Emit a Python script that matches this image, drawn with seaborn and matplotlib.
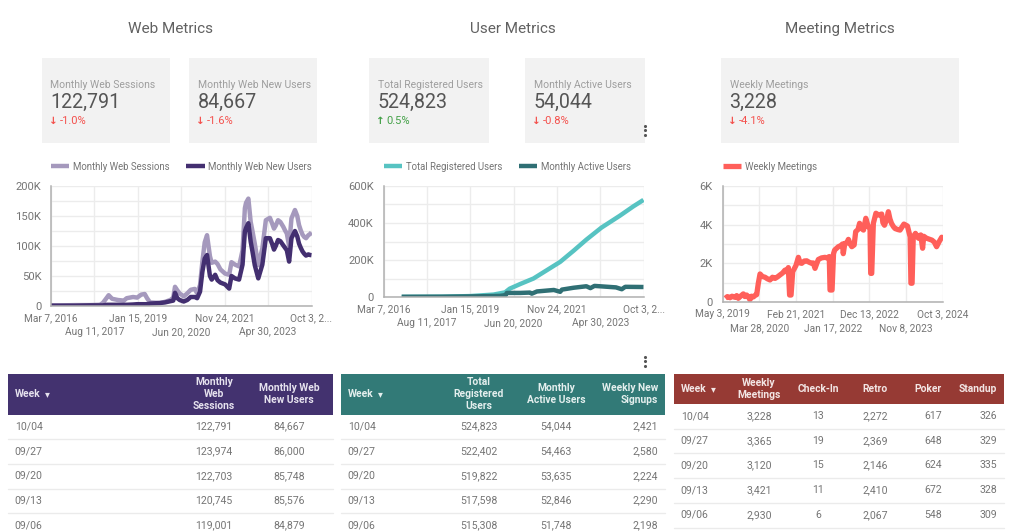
import matplotlib
matplotlib.use("Agg")
import matplotlib.pyplot as plt
from matplotlib.patches import Rectangle
from matplotlib.ticker import FuncFormatter, MultipleLocator
import pandas as pd
import seaborn as sns

# ---- chart data (weeks since the first date on each axis, values in thousands)
web_start = "2016-03-07"
web_weeks = [0, 15, 41, 67, 84, 89, 96, 99, 105, 115, 125, 130, 141, 148, 155, 161, 165, 170, 187, 196, 205, 210, 213, 217, 221,
             228, 234, 240, 247, 251, 256, 260, 264, 268, 273, 276, 282, 286, 291, 299, 306, 310, 316, 323, 329, 333, 335, 339,
             343, 346, 350, 356, 363, 369, 376, 380, 383, 386, 390, 394, 399, 402, 405, 409, 413, 419, 423, 426, 429, 432, 435,
             438, 442, 445, 447.4]
web_sessions = [1, 1, 1.5, 1.5, 2, 5, 14, 18, 12, 10, 9, 13, 15, 14, 19, 20, 13, 6, 5, 7, 10, 14, 32, 26, 21,
                16, 21, 27, 28.5, 21, 35, 74, 106, 118, 83, 72, 74, 70, 61, 54, 52, 73, 69, 66, 93, 163, 172, 179,
                140, 125, 104, 68, 96, 143, 147, 137, 129, 134, 143, 140, 132, 126, 121, 100, 146, 160, 150, 135, 126, 119, 115,
                113, 118, 120, 122.8]
web_new_users = [0.5, 0.5, 0.5, 1, 1, 1, 2, 2, 2, 2, 2, 2, 2.5, 3, 3, 3, 3, 4, 5, 6, 8, 9, 22, 13, 10,
                 7.5, 10, 15, 15, 13, 24, 57, 79, 85, 50, 44, 52, 43, 39, 36, 29, 50, 46, 44, 69, 124, 130, 138,
                 107, 91, 68, 46, 69, 113, 113, 103, 94, 100, 110, 108, 101, 97, 93, 74, 113, 125, 116, 104, 97, 91, 87,
                 84, 86, 85, 84.7]

reg_weeks = [31, 100, 149, 189, 209, 217, 235, 258, 281, 304, 327, 349, 375, 407, 430, 447.4]
reg_users = [0.5, 1.5, 5, 13, 25, 45, 70, 100, 145, 190, 250, 310, 375, 440, 490, 524.8]
active_weeks = [31, 100, 149, 200, 210, 212, 235, 252, 255, 264, 293, 304, 307, 327, 349, 356, 363, 400, 410, 416, 447.4]
active_users = [1, 1.5, 3, 6, 10, 22, 22, 24, 18, 30, 38, 28, 40, 50, 58, 48, 60, 52, 42, 55, 54]

meet_start = "2019-05-03"
meet_weeks = [3.4, 6, 9.4, 12, 15.8, 18, 20, 23, 26.5, 28.5, 30.8, 33, 35, 37, 39.4, 41.5, 43.7, 45.8, 48, 51,
              54.4, 57.5, 60.8, 64, 67.3, 70.5, 73.7, 77, 80.1, 82.5, 84.4, 86, 87.9, 90, 92, 94.3, 97.3, 99.5, 101.6, 105,
              108, 111, 114.4, 116.5, 118.7, 121, 123, 127, 131.6, 134, 137, 138, 140.6, 142.5, 144, 148.7, 152, 154, 155, 157,
              159.5, 161.6, 164, 166, 169, 171, 174, 176, 178.5, 181, 184, 187, 189.4, 190.3, 191.6, 193.7, 197, 200.5, 204.4, 206,
              208, 211, 213, 215, 217, 219.5, 221.6, 225, 228, 233, 237.5, 241, 242, 243.5, 245, 247.8, 251.6, 254.6, 257, 258.5,
              262, 265.5, 269, 272, 275, 278, 281.6, 282.9]
meet_values = [0.19, 0.28, 0.22, 0.30, 0.24, 0.33, 0.19, 0.30, 0.42, 0.28, 0.36, 0.26, 0.12, 0.30, 0.26, 0.34, 0.38, 0.97, 1.45, 1.32,
               1.28, 1.2, 1.14, 1.28, 1.22, 1.3, 1.4, 1.5, 1.65, 1.55, 1.78, 0.36, 0.36, 1.57, 1.72, 1.9, 2.31, 2.02, 2.0, 2.12,
               2.13, 2.06, 2.0, 2.02, 1.74, 2.0, 2.2, 2.28, 2.31, 2.28, 2.35, 0.62, 0.62, 2.5, 2.69, 2.86, 2.92, 3.0, 2.5, 3.03,
               3.05, 3.24, 3.0, 2.86, 2.95, 3.64, 3.75, 4.07, 3.8, 3.72, 4.33, 3.9, 3.85, 1.48, 1.48, 4.07, 4.59, 4.5, 4.55, 4.1,
               3.97, 4.3, 4.67, 4.3, 4.07, 3.9, 3.8, 3.75, 3.72, 4.03, 3.93, 3.37, 0.97, 0.97, 3.37, 3.55, 3.3, 3.47, 2.78, 3.4,
               3.3, 3.25, 3.2, 3.1, 2.86, 3.1, 3.35, 3.23]

web_ticks = ["Mar 7, 2016", "Aug 11, 2017", "Jan 15, 2019", "Jun 20, 2020", "Nov 24, 2021", "Apr 30, 2023", "Oct 3, 2024"]
web_tick_text = ["Mar 7, 2016", "Aug 11, 2017", "Jan 15, 2019", "Jun 20, 2020", "Nov 24, 2021", "Apr 30, 2023", "Oct 3, 2..."]
meet_ticks = ["May 3, 2019", "Mar 28, 2020", "Feb 21, 2021", "Jan 17, 2022", "Dec 13, 2022", "Nov 8, 2023", "Oct 3, 2024"]

# ---- section titles and score cards
section_titles = ["Web Metrics", "User Metrics", "Meeting Metrics"]
card_labels = ["Monthly Web Sessions", "Monthly Web New Users", "Total Registered Users", "Monthly Active Users", "Weekly Meetings"]
card_values = ["122,791", "84,667", "524,823", "54,044", "3,228"]
card_deltas = ["-1.0%", "-1.6%", "0.5%", "-0.8%", "-4.1%"]

# ---- tables
week_rows = ["10/04", "09/27", "09/20", "09/13", "09/06"]
web_table_head = ["Week", "Monthly\nWeb\nSessions", "Monthly Web\nNew Users"]
web_col_sessions = ["122,791", "123,974", "122,703", "120,745", "119,001"]
web_col_new = ["84,667", "86,000", "85,748", "85,576", "84,879"]
user_table_head = ["Week", "Total\nRegistered\nUsers", "Monthly\nActive Users", "Weekly New\nSignups"]
user_col_total = ["524,823", "522,402", "519,822", "517,598", "515,308"]
user_col_active = ["54,044", "54,463", "53,635", "52,846", "51,748"]
user_col_signups = ["2,421", "2,580", "2,224", "2,290", "2,198"]
meet_table_head = ["Week", "Weekly\nMeetings", "Check-In", "Retro", "Poker", "Standup"]
meet_col_total = ["3,228", "3,365", "3,120", "3,421", "2,930"]
meet_col_checkin = ["13", "19", "15", "11", "6"]
meet_col_retro = ["2,272", "2,369", "2,146", "2,410", "2,067"]
meet_col_poker = ["617", "648", "624", "672", "548"]
meet_col_standup = ["326", "329", "335", "328", "309"]

# ---- style
W, H = 1024, 532
sns.set_theme(style="white")
plt.rcParams["font.family"] = ["Roboto", "DejaVu Sans"]
GRID, AXIS, TICK = "#ececec", "#b0b0b0", "#757575"
PURPLE_L, PURPLE_D = "#a599bd", "#432f70"
TEAL_L, TEAL_D = "#57c3c2", "#2f6f74"
CORAL = "#ff5f5a"

fig = plt.figure(figsize=(W / 100, H / 100), dpi=100, facecolor="white")
bg = fig.add_axes([0, 0, 1, 1], zorder=0)
bg.set_xlim(0, W)
bg.set_ylim(H, 0)
bg.axis("off")


def to_dates(start, weeks):
    return pd.Timestamp(start) + pd.to_timedelta(weeks, unit="W")


def make_axes(x0, x1, y0, y1):
    return fig.add_axes([x0 / W, 1 - y1 / H, (x1 - x0) / W, (y1 - y0) / H], zorder=2, facecolor="none")


def finish(ax, ticks, tick_text, ymax, major, minor, height, legend_y=166.7):
    tick_dates = pd.to_datetime(ticks, format="%b %d, %Y")
    ax.set_xlim(tick_dates[0], tick_dates[-1])
    ax.set_xticks(tick_dates)
    ax.set_xticklabels(tick_text)
    ax.set_ylim(0, ymax)
    ax.yaxis.set_major_locator(MultipleLocator(major))
    ax.yaxis.set_minor_locator(MultipleLocator(minor))
    ax.yaxis.set_major_formatter(FuncFormatter(lambda v, _: "0" if v == 0 else f"{v:g}K"))
    ax.grid(True, which="both", color=GRID, lw=1.0)
    ax.set_axisbelow(True)
    ax.set_xlabel("")
    ax.set_ylabel("")
    ax.tick_params(axis="x", length=0, labelsize=7.3, labelcolor=TICK)
    ax.tick_params(axis="y", which="both", length=0, labelsize=8.1, labelcolor=TICK, pad=7)
    for i, t in enumerate(ax.xaxis.get_major_ticks()):
        t.set_pad(5 if i % 2 == 0 else 15)
    for s in ("top", "right"):
        ax.spines[s].set_visible(False)
    for s in ("left", "bottom"):
        ax.spines[s].set_color(AXIS)
        ax.spines[s].set_linewidth(1.1)
    leg = ax.legend(loc="center left", bbox_to_anchor=(0, 1 + (186 - legend_y) / height), ncol=2, frameon=False,
                    fontsize=6.9, labelcolor=TICK, handlelength=1.9, handletextpad=0.4, columnspacing=1.75,
                    borderpad=0, borderaxespad=0)
    return leg


def line(ax, start, weeks, values, color, label, lw=3.2):
    sns.lineplot(x=to_dates(start, weeks), y=values, color=color, lw=lw, label=label, ax=ax,
                 estimator=None, sort=False, errorbar=None, solid_joinstyle="round", solid_capstyle="butt")


ax1 = make_axes(51, 311.5, 186, 306)
line(ax1, web_start, web_weeks, web_sessions, PURPLE_L, "Monthly Web Sessions")
line(ax1, web_start, web_weeks, web_new_users, PURPLE_D, "Monthly Web New Users")
finish(ax1, web_ticks, web_tick_text, 200, 50, 25, 120)

ax2 = make_axes(383.7, 643.5, 186, 297)
line(ax2, web_start, reg_weeks, reg_users, TEAL_L, "Total Registered Users")
line(ax2, web_start, active_weeks, active_users, TEAL_D, "Monthly Active Users")
finish(ax2, web_ticks, web_tick_text, 600, 200, 100, 111)

ax3 = make_axes(722.7, 942.7, 186, 302)
line(ax3, meet_start, meet_weeks, meet_values, CORAL, "Weekly Meetings", lw=3.8)
finish(ax3, meet_ticks, meet_ticks, 6, 2, 1, 116)

# ---- titles
for title, cx in zip(section_titles, (171, 513, 840)):
    bg.text(cx, 29, title, ha="center", va="center", fontsize=11, color="#616161")

# ---- score cards
cards = [(42, 170), (189, 317), (369, 489), (525, 645), (721, 959)]
for (x0, x1), lab, val, dl in zip(cards, card_labels, card_values, card_deltas):
    bg.add_patch(Rectangle((x0, 58), x1 - x0, 85, fc="#f2f2f2", ec="none"))
    bg.text(x0 + 8.5, 84.5, lab, ha="left", va="center", fontsize=7.45, color="#9e9e9e")
    bg.text(x0 + 8.5, 102.5, val, ha="left", va="center", fontsize=14.1, color="#555555")
    up = not dl.startswith("-")
    c = "#43a047" if up else "#f4504c"
    bg.text(x0 + 11.5, 120.8, "↑" if up else "↓", ha="center", va="center", fontsize=7.5, color=c,
            family="DejaVu Sans", fontweight="bold")
    bg.text(x0 + 17.5, 120.8, dl, ha="left", va="center", fontsize=8, color=c)

# ---- kebab menus
for kx, ky in ((645, 130), (645, 361)):
    bg.scatter([kx] * 3, [ky - 4.5, ky, ky + 4.5], s=5, color="#555555", linewidths=0, zorder=5)


# ---- tables
def table(x0, x1, head_bottom, color, heads, columns, positions, head_fg):
    bg.add_patch(Rectangle((x0, 373.5), x1 - x0, head_bottom - 373.5, fc=color, ec="none"))
    head_y = (373.5 + head_bottom) / 2
    for head, (px, align) in zip(heads, positions):
        bg.text(px, head_y, head, ha=align, va="center", fontsize=7.35, color=head_fg, fontweight="bold",
                linespacing=1.25, multialignment=align if align != "left" else "left")
    bg.text(positions[0][0] + 33, head_y, "▾", ha="center", va="center", fontsize=7, color=head_fg, family="DejaVu Sans")
    for r in range(5):
        y = head_bottom + 12 + r * 24.72
        for col, (px, align) in zip(columns, positions):
            bg.text(px, y, col[r], ha=align, va="center", fontsize=7.6, color=TICK)
        sep = head_bottom + (r + 1) * 24.72
        if sep < H:
            bg.plot([x0, x1], [sep, sep], color="#ebebeb", lw=1.0)


table(8, 333, 414.5, "#43326f", web_table_head, [week_rows, web_col_sessions, web_col_new],
      [(14.7, "left"), (214, "center"), (289, "center")], "#e6e2ee")
table(341, 665, 414.5, "#327a77", user_table_head, [week_rows, user_col_total, user_col_active, user_col_signups],
      [(347.7, "left"), (479, "center"), (556, "center"), (658, "right")], "#e4efee")
table(674, 1004, 404, "#963a34", meet_table_head,
      [week_rows, meet_col_total, meet_col_checkin, meet_col_retro, meet_col_poker, meet_col_standup],
      [(680.7, "left"), (759, "center"), (818, "center"), (875, "center"), (942, "right"), (997, "right")], "#f3e6e5")

fig.savefig("out.png", dpi=100)
